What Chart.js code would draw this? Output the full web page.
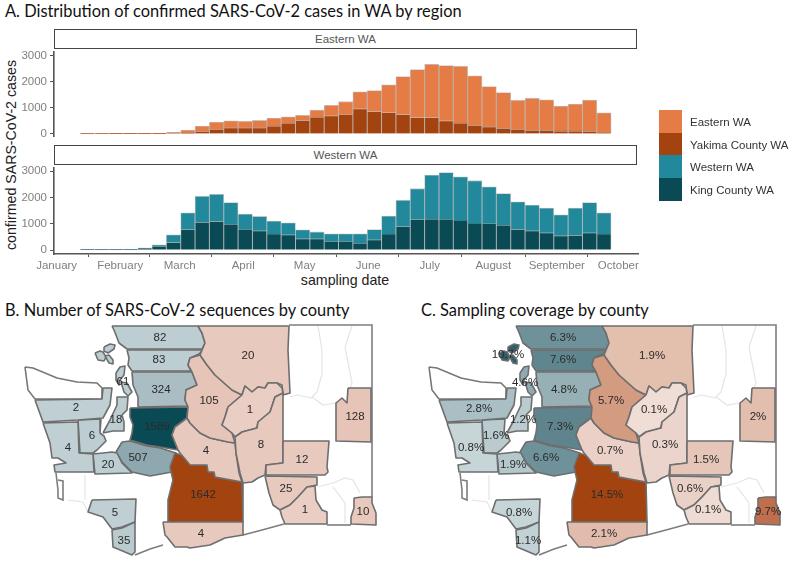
<!DOCTYPE html>
<html>
<head>
<meta charset="utf-8">
<title>SARS-CoV-2 in WA</title>
<script src="https://cdn.jsdelivr.net/npm/chart.js@4"></script>
<style>
  html,body{margin:0;padding:0;background:#fff;}
  #page{position:relative;width:791px;height:561px;overflow:hidden;font-family:"Liberation Sans",Arial,sans-serif;}
  canvas{position:absolute;}
  .title{position:absolute;font-family:Lato,sans-serif;font-size:16.4px;color:#111;white-space:nowrap;line-height:20px;}
  .strip{position:absolute;left:54px;width:581px;height:18px;border:1.5px solid #444;text-align:center;font-size:11.5px;line-height:18px;color:#555;box-sizing:content-box;}
  .axt{position:absolute;font-size:14.2px;color:#222;white-space:nowrap;}
  .sw{position:absolute;left:659px;width:23px;height:23px;}
  .lg{position:absolute;left:690px;font-size:11.5px;color:#333;white-space:nowrap;line-height:14px;}
</style>
</head>
<body>
<div id="page">
  <div class="title" style="left:5px;top:1px">A. Distribution of confirmed SARS-CoV-2 cases in WA by region</div>
  <div class="strip" style="top:29px">Eastern WA</div>
  <div class="strip" style="top:145px">Western WA</div>
  <div class="axt" style="left:11px;top:155px;transform:translate(-50%,-50%) rotate(-90deg)">confirmed SARS-CoV-2 cases</div>
  <div class="axt" style="left:345px;top:272px;transform:translateX(-50%)">sampling date</div>
  <canvas id="east"></canvas>
  <canvas id="west"></canvas>
  <div id="legend"></div>
  <div class="title" style="left:5px;top:300px">B. Number of SARS-CoV-2 sequences by county</div>
  <div class="title" style="left:421px;top:300px">C. Sampling coverage by county</div>
  <canvas id="mapB"></canvas>
  <canvas id="mapC"></canvas>
</div>
<script>
// weekly bins, day of the year at the middle of each bin
const weekDays = [16,23,30,37,44,51,58,65,72,79,86,93,100,107,114,121,128,135,142,149,156,163,170,177,184,191,198,205,212,219,226,233,240,247,254,261,268];
const yakimaCases = [5,5,5,5,5,5,40,30,100,165,240,240,240,300,420,520,650,695,760,970,860,820,745,630,630,505,415,330,280,215,165,140,140,115,115,100,50];
const easternCases = [10,10,15,15,15,15,10,120,200,290,265,250,280,310,240,200,270,405,480,650,810,1070,1465,1845,2050,2125,2185,1905,1540,1375,1125,1235,1170,960,1035,1200,760];
const kingCases = [5,5,5,5,70,140,290,790,1055,1090,990,800,730,615,580,430,430,330,330,265,390,615,905,1170,1180,1180,1120,1005,1005,955,790,730,655,540,565,655,615];
const westernCases = [15,15,15,15,10,60,290,630,995,1030,820,570,550,490,460,340,260,285,285,350,390,680,990,1165,1670,1770,1670,1635,1405,1195,1045,980,940,805,1030,1155,805];
const monthNames = ['January','February','March','April','May','June','July','August','September','October'];
const monthDays = [1,32,61,92,122,153,183,214,245,275];
const caseTicks = [0,1000,2000,3000];
const regionNames = ['Eastern WA','Yakima County WA','Western WA','King County WA'];
const regionColors = ['#E67C45','#A3430F','#21899B','#0A4A54'];

// county map, outlines in map units
const countyShapes = [
  [[112,326],[198,326],[202,333],[205,343],[202,349],[127,349],[119,343],[116,335],[114,330]], // Whatcom
  [[127,350],[203,350],[199,354],[190,358],[188,365],[191,371],[132,371],[128,365],[129,358]], // Skagit
  [[132,372],[192,372],[197,385],[186,390],[185,400],[188,406],[138,407],[138,397],[133,385]], // Snohomish
  [[130,408],[188,407],[187,418],[175,427],[172,435],[178,450],[160,447],[147,445],[140,443],[130,440],[132,433],[133,425],[130,417]], // King
  [[122,442],[130,441],[140,444],[147,446],[160,448],[176,453],[172,472],[150,476],[132,472],[122,462],[116,452]], // Pierce
  [[93,454],[103,453],[112,452],[117,453],[122,463],[132,473],[95,474]], // Thurston
  [[78,420],[101,419],[100,433],[104,436],[106,441],[101,446],[97,450],[93,453],[80,453]], // Mason
  [[43,423],[78,422],[79,453],[93,454],[94,472],[55,472],[54,465],[66,463],[58,458],[52,458],[50,443]], // Grays Harbor
  [[35,400],[102,399],[103,388],[112,388],[110,405],[103,418],[78,420],[43,422]], // Jefferson
  [[103,433],[110,420],[117,405],[117,397],[128,397],[127,410],[122,415],[124,422],[124,431],[113,431]], // Kitsap
  [[116,373],[120,367],[125,366],[124,375],[120,380],[119,385],[116,380]], // Island
  [[121,382],[127,383],[132,392],[128,396],[124,392]], // Island, south part
  [[95,353],[100,351],[103,352],[106,357],[104,361],[98,360]], // San Juan
  [[104,347],[110,344],[115,345],[114,349],[108,353],[104,351]],
  [[105,356],[109,355],[113,360],[113,364],[109,363]],
  [[92,500],[136,499],[135,522],[122,527],[112,529],[103,517],[88,512]], // Cowlitz
  [[112,530],[122,528],[135,522],[135,552],[132,555],[113,547]], // Clark
  [[170,467],[175,453],[190,458],[200,465],[207,465],[208,472],[214,472],[215,477],[242,482],[243,522],[168,522],[168,500],[173,480]], // Yakima
  [[163,522],[243,522],[243,535],[225,538],[210,545],[190,548],[187,547],[175,547],[167,537],[165,535]], // Klickitat
  [[178,450],[172,435],[175,427],[187,418],[190,423],[200,433],[210,438],[228,442],[235,443],[236,453],[239,473],[242,482],[215,477],[214,472],[208,472],[207,465],[190,465],[180,453]], // Kittitas
  [[200,355],[207,365],[215,375],[232,390],[242,395],[228,407],[225,417],[222,425],[232,433],[235,443],[228,442],[210,438],[200,433],[190,423],[187,418],[188,407],[185,400],[186,390],[197,385],[192,372],[188,365],[190,358]], // Chelan
  [[198,326],[289,326],[288,350],[290,393],[283,395],[282,385],[277,383],[268,383],[265,388],[258,387],[252,392],[245,386],[242,395],[232,390],[215,375],[207,365],[200,355],[205,343],[202,333]], // Okanogan
  [[242,395],[245,386],[252,392],[258,387],[265,388],[268,383],[277,383],[282,388],[283,393],[275,397],[270,412],[258,422],[257,428],[242,432],[235,437],[232,433],[222,425],[225,417],[228,407]], // Douglas
  [[283,393],[283,463],[266,465],[265,475],[258,478],[252,482],[243,483],[240,473],[236,453],[235,437],[242,432],[257,428],[258,422],[270,412],[275,397]], // Grant
  [[283,441],[329,441],[327,467],[328,472],[325,475],[266,475],[266,465],[283,463]], // Adams
  [[348,388],[371,388],[371,442],[336,441],[336,403],[342,398],[347,403]], // Spokane
  [[265,476],[317,477],[317,485],[307,487],[298,497],[290,505],[280,510],[273,505],[269,493]], // Franklin
  [[280,510],[290,505],[298,497],[307,487],[315,486],[316,500],[322,510],[327,512],[327,524],[285,524],[282,517]], // Walla Walla
  [[354,498],[362,497],[372,497],[372,503],[376,513],[376,525],[351,524],[351,517],[354,508]] // Asotin
];
const clallamShape = [[25,367],[33,368],[57,378],[77,382],[97,383],[102,388],[102,399],[35,399],[28,390]];
const borderLines = [
  [[289,325],[372,325],[372,497]],
  [[327,525],[351,525]],
  [[243,535],[262,530],[273,527],[284,524]],
  [[135,555],[150,549],[163,545]],
  [[56,473],[58,490],[58,498],[63,500],[63,481],[58,480]]
];
const faintLines = [
  [[318,326],[322,350],[322,374],[317,392],[312,397],[323,405],[336,403]],
  [[352,326],[345,347],[352,383],[350,388]],
  [[290,397],[297,395],[312,398]],
  [[317,487],[333,483],[345,478],[353,480],[360,493]],
  [[333,487],[345,503],[345,523]],
  [[85,475],[85,500]],
  [[68,500],[83,502],[88,512]],
  [[92,500],[136,499]],
  [[173,475],[173,487],[168,500]]
];

// county values, same order as countyShapes
const sequenceLabels = ['82','83','324','1589','507','20','6','4','2','18','61','','','','','5','35','1642','4','4','105','20','1','8','12','128','25','1','10'];
const coverageLabels = ['6.3%','7.6%','4.8%','7.3%','6.6%','1.9%','1.6%','0.8%','2.8%','1.2%','4.6%','','10.7%','','','0.8%','1.1%','14.5%','2.1%','0.7%','5.7%','1.9%','0.1%','0.3%','1.5%','2%','0.6%','0.1%','9.7%'];
const labelPlaces = [[160,338],[159,360],[161,390],[157,427],[138,458],[108,465],[92,436],[68,448],[76,408],[116,420],[123,382],[0,0],[0,0],[0,0],[0,0],[115,513],[124,541],[203,495],[201,534],[206,451],[209,401],[248,356],[250,410],[261,445],[302,460],[355,417],[286,489],[305,510],[363,512]];
const labelPlacesC = [[159,338],[159,360],[160,390],[156,427],[142,458],[109,465],[92,436],[67,448],[75,409],[119,420],[121,383],[0,0],[104,355],[0,0],[0,0],[115,513],[124,541],[203,495],[200,534],[206,451],[207,401],[248,356],[250,410],[261,445],[302,460],[354,417],[286,489],[304,510],[364,512]];
const fillsB = ['#BDCED2','#BDCED2','#A9BDC2','#0A4A54','#8FA7AE','#BDCED2','#BDCED2','#BFCFD3','#BFCFD3','#BDCED2','#BDCED2','#BDCED2','#BDCED2','#BDCED2','#BDCED2','#BFCFD3','#BACBD0','#A3430F','#E8C9BE','#E8C9BE','#E6C4B8','#E8C9BE','#EACDC3','#E8C9BE','#E8C9BE','#E6C4B8','#E8C9BE','#EACDC3','#E8C9BE'];
const fillsC = ['#6F929A','#5F868F','#96B0B6','#5F848D','#6F929A','#B4C8CC','#B9CBCF','#C6D5D8','#A9BFC4','#BBCCD0','#8FABB1','#8FABB1','#2E5F68','#2E5F68','#2E5F68','#C6D5D8','#C1D1D5','#A3430F','#E1BCAC','#EAD0C6','#D39B80','#E3BFAE','#EFDDD6','#EBD4CB','#E5C6B8','#E2BEAE','#EAD1C7','#EEDBD3','#C06F4E'];

const pts = arr => arr.map(p=>({x:p[0],y:p[1]}));
const sizeCanvas=(id,w,h)=>{const c=document.getElementById(id);c.width=w;c.height=h;c.style.width=w+'px';c.style.height=h+'px';};

// stacked weekly bars for one region
function regionChart(id, top, low, high, lowName, highName, lowCol, highCol, yMin, yMax, showX){
  const cv = document.getElementById(id);
  cv.style.left='0px'; cv.style.top=top+'px';
  const toXY = arr => weekDays.map((d,i)=>({x:d,y:arr[i]}));
  const bar = {borderColor:'rgba(90,90,90,.35)', borderWidth:.8, barPercentage:1, categoryPercentage:1};
  return new Chart(cv, {
    type:'bar',
    data:{datasets:[
      {label:lowName, data:toXY(low), backgroundColor:lowCol, ...bar},
      {label:highName, data:toXY(high), backgroundColor:highCol, ...bar}
    ]},
    options:{
      responsive:false, animation:false,
      layout:{padding:{left:0,right:26,top:8,bottom:showX?0:8}},
      plugins:{legend:{display:false},tooltip:{enabled:false}},
      scales:{
        x:{type:'linear', stacked:true, offset:false, min:-0.3, max:284.6, display:showX,
          border:{color:'#555',width:1.6},
          grid:{drawOnChartArea:false,tickColor:'#555',tickLength:3},
          ticks:{autoSkip:false,maxRotation:0,padding:2,color:'#808080',font:{size:11.5,family:'"Liberation Sans"'},callback:(v,i)=>monthNames[i]},
          afterBuildTicks:s=>{s.ticks=monthDays.map(v=>({value:v}));},
          afterFit:s=>{s.height=showX?22:0;}
        },
        y:{stacked:true, min:yMin, max:yMax,
          border:{color:'#555',width:1.6},
          grid:{drawOnChartArea:false,tickColor:'#555',tickLength:4},
          ticks:{padding:3,color:'#808080',font:{size:11.5,family:'"Liberation Sans"'},callback:v=>String(v)},
          afterBuildTicks:s=>{s.ticks=caseTicks.map(v=>({value:v}));},
          afterFit:s=>{s.width=54;}
        }
      }
    }
  });
}
sizeCanvas('east',664,104); sizeCanvas('west',664,118);
regionChart('east',42,yakimaCases,easternCases,regionNames[1],regionNames[0],regionColors[1],regionColors[0],-83,3155,false);
regionChart('west',158,kingCases,westernCases,regionNames[3],regionNames[2],regionColors[3],regionColors[2],-150,3126,true);

// legend
const lg=document.getElementById('legend');
regionNames.forEach((n,i)=>{
  lg.insertAdjacentHTML('beforeend',`<div class="sw" style="top:${110+i*22.7}px;background:${regionColors[i]}"></div><div class="lg" style="top:${115+i*22.7}px">${n}</div>`);
});

// county label text, placed through the scales
const labelsPlugin = {
  id:'countyLabels',
  afterDatasetsDraw(chart,args,o){
    const {ctx,scales:{x,y}}=chart;
    ctx.save(); ctx.font='11.5px "Liberation Sans"'; ctx.fillStyle='#2b2b2b'; ctx.textAlign='center'; ctx.textBaseline='middle';
    o.text.forEach((t,i)=>{ if(t) ctx.fillText(t,x.getPixelForValue(o.places[i][0]),y.getPixelForValue(o.places[i][1])); });
    ctx.restore();
  }
};

function mapChart(id,left,width,fills,text,places){
  sizeCanvas(id,width,246);
  const cv=document.getElementById(id);
  cv.style.left=left+'px'; cv.style.top='315px';
  const ds=[];
  faintLines.forEach(l=>ds.push({data:pts(l),borderColor:'#e4e4e4',borderWidth:1.2,order:90}));
  ds.push({data:pts(clallamShape.concat([clallamShape[0]])),borderColor:'#777',borderWidth:1.6,backgroundColor:'#fff',fill:'shape',order:80});
  countyShapes.forEach((s,i)=>ds.push({data:pts(s.concat([s[0]])),borderColor:'#6e6e6e',borderWidth:1.6,borderJoinStyle:'round',backgroundColor:fills[i],fill:'shape',order:70-i}));
  borderLines.forEach(l=>ds.push({data:pts(l),borderColor:'#7d7d7d',borderWidth:1.6,order:85}));
  ds.forEach(d=>{d.showLine=true;d.pointRadius=0;d.tension=0;if(!d.fill)d.fill=false;});
  return new Chart(cv,{
    type:'scatter',
    data:{datasets:ds},
    plugins:[labelsPlugin],
    options:{
      responsive:false,animation:false,
      layout:{padding:0},
      plugins:{legend:{display:false},tooltip:{enabled:false},countyLabels:{text,places}},
      scales:{
        x:{type:'linear',min:0,max:width,display:false},
        y:{type:'linear',min:315,max:561,reverse:true,display:false}
      }
    }
  });
}
mapChart('mapB',0,395,fillsB,sequenceLabels,labelPlaces);
mapChart('mapC',404,387,fillsC,coverageLabels,labelPlacesC);
</script>
</body>
</html>
